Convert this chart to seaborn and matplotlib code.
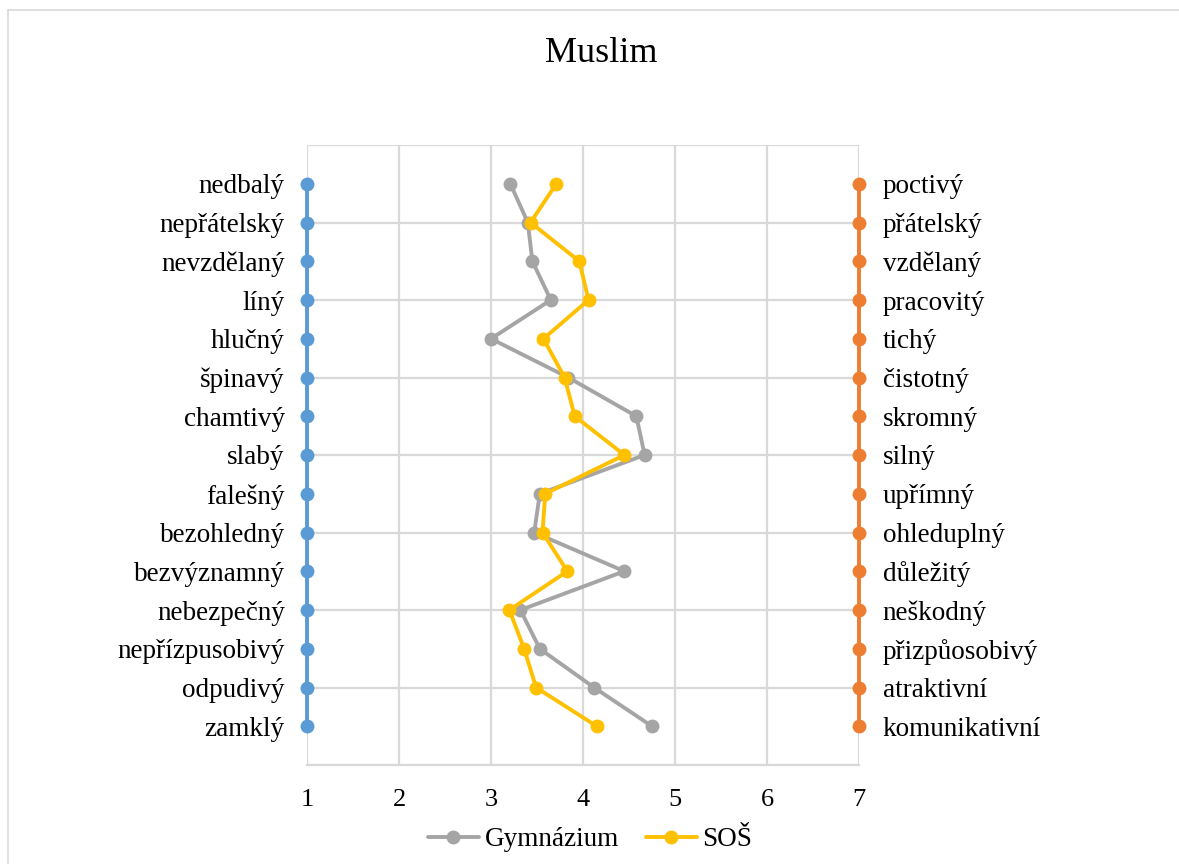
import matplotlib
matplotlib.use("Agg")
import matplotlib.pyplot as plt
import seaborn as sns
import pandas as pd
from matplotlib.lines import Line2D

title = "Muslim"
left_labels = ["nedbalý", "nepřátelský", "nevzdělaný", "líný", "hlučný", "špinavý",
               "chamtivý", "slabý", "falešný", "bezohledný", "bezvýznamný",
               "nebezpečný", "nepřízpusobivý", "odpudivý", "zamklý"]
right_labels = ["poctivý", "přátelský", "vzdělaný", "pracovitý", "tichý", "čistotný",
                "skromný", "silný", "upřímný", "ohleduplný", "důležitý",
                "neškodný", "přizpůosobivý", "atraktivní", "komunikativní"]
gymnazium = [3.21, 3.40, 3.45, 3.65, 3.00, 3.84, 4.58, 4.67, 3.53, 3.47, 4.45,
             3.32, 3.53, 4.12, 4.75]
sos = [3.71, 3.43, 3.96, 4.06, 3.57, 3.80, 3.91, 4.45, 3.59, 3.56, 3.83,
       3.20, 3.36, 3.49, 4.15]
left_value = [1] * 15
right_value = [7] * 15
positions = list(range(15, 0, -1))
x_ticks = [1, 2, 3, 4, 5, 6, 7]
series_names = ["Gymnázium", "SOŠ"]

colors = {"left": "#5B9BD5", "right": "#ED7D31", "Gymnázium": "#A5A5A5", "SOŠ": "#FFC000"}

sns.set_theme(style="white")
plt.rcParams["font.family"] = ["Liberation Serif", "DejaVu Serif"]
plt.rcParams["text.color"] = "black"
plt.rcParams["xtick.color"] = "black"
plt.rcParams["ytick.color"] = "black"

fig = plt.figure(figsize=(11.79, 8.64), dpi=100)
ax = fig.add_axes([307 / 1179, 1 - 765 / 864, 552 / 1179, 620 / 864])

df = pd.concat([
    pd.DataFrame({"value": left_value, "pos": positions, "series": "left"}),
    pd.DataFrame({"value": right_value, "pos": positions, "series": "right"}),
    pd.DataFrame({"value": gymnazium, "pos": positions, "series": "Gymnázium"}),
    pd.DataFrame({"value": sos, "pos": positions, "series": "SOŠ"}),
])

for name in ["left", "right", "Gymnázium", "SOŠ"]:
    sub = df[df["series"] == name]
    sns.lineplot(data=sub, x="value", y="pos", sort=False, estimator=None,
                 orient="y", color=colors[name], linewidth=2.8, marker="o",
                 markersize=10, markeredgewidth=0, ax=ax, legend=False, zorder=3)
for ln in ax.lines:
    ln.set_clip_on(False)

ax.set_xlim(1, 7)
ax.set_ylim(0, 16)
ax.set_xticks(x_ticks)
ax.set_xticklabels([str(t) for t in x_ticks])
ax.set_yticks(list(range(0, 17, 2)))
ax.set_yticklabels([])
ax.grid(True, color="#D9D9D9", linewidth=1.6)
for s in ax.spines.values():
    s.set_visible(False)
ax.spines["bottom"].set_visible(True)
ax.spines["bottom"].set_color("#D9D9D9")
ax.spines["bottom"].set_linewidth(1.6)
ax.tick_params(axis="x", length=0, pad=17, labelsize=19)
ax.tick_params(axis="y", length=0)
ax.set_xlabel("")
ax.set_ylabel("")

# category labels on both sides
axl = ax.twinx()
axl.set_ylim(0, 16)
axl.yaxis.set_ticks_position("left")
axl.set_yticks(positions)
axl.set_yticklabels(left_labels, fontsize=19.5)
axl.tick_params(axis="y", length=0, pad=16)
for s in axl.spines.values():
    s.set_visible(False)

axr = ax.twinx()
axr.set_ylim(0, 16)
axr.set_yticks(positions)
axr.set_yticklabels(right_labels, fontsize=19.5)
axr.tick_params(axis="y", length=0, pad=17)
for s in axr.spines.values():
    s.set_visible(False)
axr.set_ylabel("")
axl.set_ylabel("")

fig.text(601 / 1179, 1 - 53 / 864, title, ha="center", va="center", fontsize=26)

handles = [Line2D([], [], color=colors[n], linewidth=2.8, marker="o", markersize=10,
                  markeredgewidth=0) for n in series_names]
fig.legend(handles, series_names, loc="center", bbox_to_anchor=(590 / 1179, 1 - 840 / 864),
           ncol=2, frameon=False, fontsize=19.5, handlelength=1.9, columnspacing=1.0,
           handletextpad=0.2)

# outer chart border (left and top visible)
fig.add_artist(Line2D([8 / 1179, 8 / 1179], [0, 1 - 10 / 864], color="#D9D9D9",
                      linewidth=1.2, transform=fig.transFigure))
fig.add_artist(Line2D([8 / 1179, 1], [1 - 10 / 864, 1 - 10 / 864], color="#D9D9D9",
                      linewidth=1.2, transform=fig.transFigure))

fig.savefig("out.png", dpi=100, facecolor="white")
